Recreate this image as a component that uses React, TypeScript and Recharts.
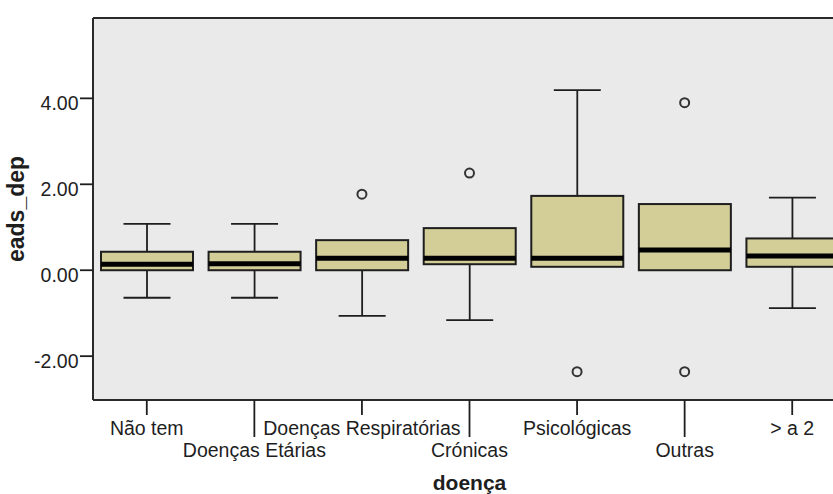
import { ComposedChart, Bar, Line, XAxis, YAxis, CartesianGrid, Label, ReferenceLine } from 'recharts'

const categories = ['Não tem', 'Doenças Etárias', 'Doenças Respiratórias', 'Crónicas', 'Psicológicas', 'Outras', '> a 2']
const whiskerLow = [-0.64, -0.64, -1.06, -1.16, 0.08, 0.0, -0.88]
const q1 = [0.0, 0.0, 0.0, 0.14, 0.08, 0.0, 0.08]
const median = [0.14, 0.15, 0.28, 0.28, 0.28, 0.47, 0.33]
const q3 = [0.43, 0.43, 0.7, 0.98, 1.73, 1.54, 0.74]
const whiskerHigh = [1.08, 1.08, 0.7, 0.98, 4.19, 1.54, 1.69]
const outHigh = [null, null, 1.77, 2.26, null, 3.9, null]
const outLow = [null, null, null, null, -2.36, -2.36, null]
const yTicks = [-2, 0, 2, 4]
const yDomain = [-3.02, 5.87]

const data = categories.map((name, i) => ({
  name,
  range: [whiskerLow[i], whiskerHigh[i]],
  lo: whiskerLow[i],
  q1: q1[i],
  med: median[i],
  q3: q3[i],
  hi: whiskerHigh[i],
  outHigh: outHigh[i],
  outLow: outLow[i],
}))

const FONT = 'Liberation Sans, Arial, sans-serif'
const INK = '#1e1e1e'
const BOX_FILL = '#d3ce98'
const PLOT_BG = '#eaeaea'

// box drawn inside the whisker range bar; positions come from the bar's own scaled y/height
const BoxShape = (props: any) => {
  const { x, y, width, height, payload } = props
  const top = Math.min(y, y + height)
  const h = Math.abs(height)
  const { lo, hi } = payload
  const py = (v: number) => (hi === lo ? top : top + ((hi - v) / (hi - lo)) * h)
  const cx = x + width / 2
  const cap = 47
  const yQ1 = py(payload.q1)
  const yQ3 = py(payload.q3)
  return (
    <g>
      {hi > payload.q3 && (
        <>
          <line x1={cx} x2={cx} y1={py(hi)} y2={yQ3} stroke={INK} strokeWidth={1.8} />
          <line x1={cx - cap / 2} x2={cx + cap / 2} y1={py(hi)} y2={py(hi)} stroke={INK} strokeWidth={1.8} />
        </>
      )}
      {lo < payload.q1 && (
        <>
          <line x1={cx} x2={cx} y1={yQ1} y2={py(lo)} stroke={INK} strokeWidth={1.8} />
          <line x1={cx - cap / 2} x2={cx + cap / 2} y1={py(lo)} y2={py(lo)} stroke={INK} strokeWidth={1.8} />
        </>
      )}
      <rect x={x} y={yQ3} width={width} height={yQ1 - yQ3} fill={BOX_FILL} stroke={INK} strokeWidth={2} />
      <line x1={x} x2={x + width} y1={py(payload.med)} y2={py(payload.med)} stroke="#000" strokeWidth={5} />
    </g>
  )
}

const OutlierDot = (props: any) => {
  const { cx, cy, value, index } = props
  if (value == null || cy == null || isNaN(cy)) return <g key={index} />
  return <circle key={index} cx={cx} cy={cy} r={4.5} fill={PLOT_BG} stroke="#333" strokeWidth={2} />
}

const YTick = (props: any) => {
  const { x, y, payload } = props
  return (
    <text x={x} y={y} dy={12} textAnchor="end" fontFamily={FONT} fontSize={19.5} fill={INK}>
      {Number(payload.value).toFixed(2)}
    </text>
  )
}

const XTick = (props: any) => {
  const { x, y, payload, index } = props
  const low = index % 2 === 1
  return (
    <g>
      <line x1={x} x2={x} y1={y} y2={y + (low ? 37 : 15)} stroke={INK} strokeWidth={1.8} />
      <text x={x} y={y + (low ? 57 : 35)} textAnchor="middle" fontFamily={FONT} fontSize={19.5} fill={INK}>
        {payload.value}
      </text>
    </g>
  )
}

export default function App() {
  return (
    <div style={{ position: 'fixed', left: 0, top: 0, width: 833, height: 494, overflow: 'hidden', background: '#fff' }}>
      <ComposedChart width={860} height={494} data={data} margin={{ top: 18, right: 14, bottom: 0, left: 0 }}>
        <CartesianGrid fill={PLOT_BG} horizontal={false} vertical={false} />
        <XAxis
          dataKey="name"
          height={94}
          interval={0}
          tickSize={0}
          tickMargin={0}
          tickLine={false}
          tick={<XTick />}
          axisLine={{ stroke: '#2a2a2a', strokeWidth: 2 }}
        >
          <Label
            content={({ viewBox }: any) => (
              <text
                x={viewBox.x + viewBox.width / 2}
                y={490}
                textAnchor="middle"
                fontFamily={FONT}
                fontWeight="bold"
                fontSize={21}
                fill={INK}
              >
                doença
              </text>
            )}
          />
        </XAxis>
        <YAxis
          width={93}
          domain={yDomain}
          ticks={yTicks}
          allowDataOverflow
          tickSize={13}
          tickMargin={1.5}
          tickLine={{ stroke: INK, strokeWidth: 1.8 }}
          tick={<YTick />}
          axisLine={{ stroke: '#2a2a2a', strokeWidth: 2 }}
        >
          <Label
            content={({ viewBox }: any) => {
              const cy = viewBox.y + viewBox.height / 2
              return (
                <text
                  x={24}
                  y={cy}
                  transform={`rotate(-90, 24, ${cy})`}
                  textAnchor="middle"
                  fontFamily={FONT}
                  fontWeight="bold"
                  fontSize={23}
                  fill={INK}
                >
                  eads_dep
                </text>
              )
            }}
          />
        </YAxis>
        <ReferenceLine y={yDomain[1]} stroke="#2a2a2a" strokeWidth={2} ifOverflow="visible" />
        <Bar dataKey="range" barSize={92} shape={<BoxShape />} isAnimationActive={false} />
        <Line dataKey="outHigh" stroke="none" dot={<OutlierDot />} activeDot={false} isAnimationActive={false} />
        <Line dataKey="outLow" stroke="none" dot={<OutlierDot />} activeDot={false} isAnimationActive={false} />
      </ComposedChart>
    </div>
  )
}
